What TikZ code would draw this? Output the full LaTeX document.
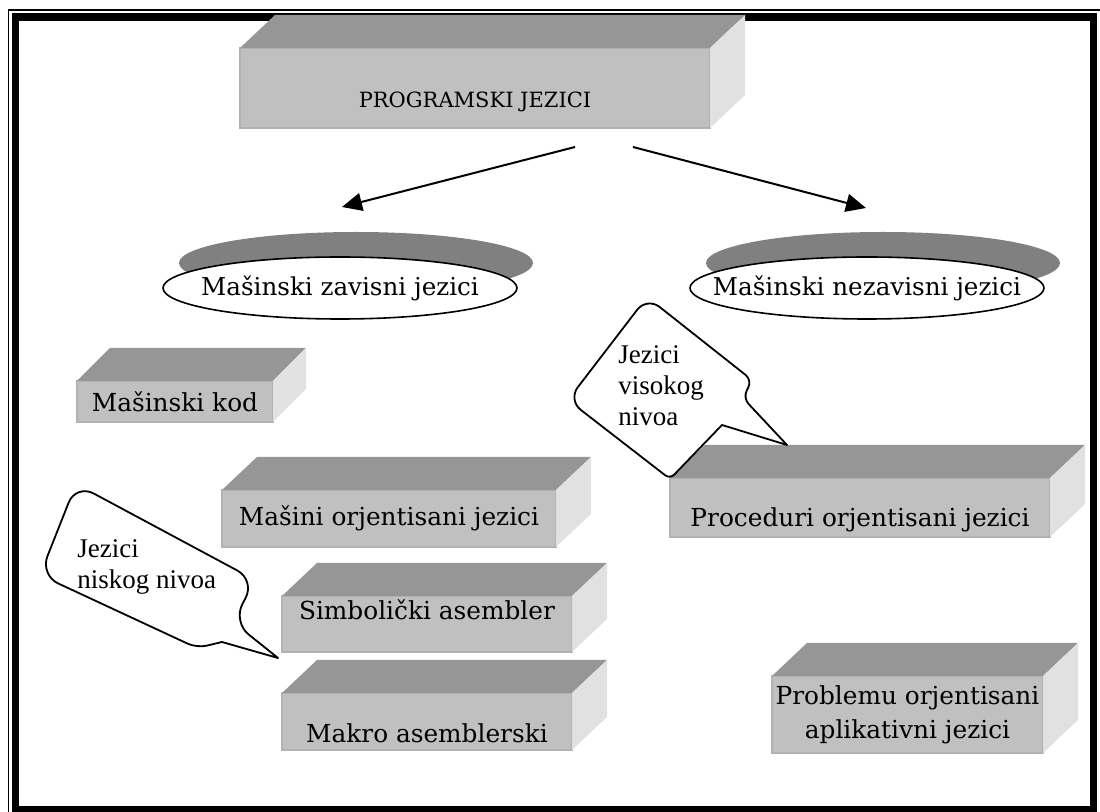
\documentclass[tikz,border=0pt]{standalone}
\usepackage{fontspec}
\setmainfont{DejaVu Serif}
\newfontfamily\calloutfont{Liberation Serif}
\usetikzlibrary{arrows.meta,shapes.geometric,shadows}

\definecolor{slabtopgray}{HTML}{969696}
\definecolor{slabfrontgray}{HTML}{C0C0C0}
\definecolor{slabsidegray}{HTML}{E1E1E1}
\definecolor{slabedgegray}{HTML}{B2B2B2}
\definecolor{ovalshade}{HTML}{808080}

\tikzset{
  slabface/.style={fill=slabfrontgray, draw=slabedgegray, line width=0.8pt,
    outer sep=0pt, inner sep=0pt, align=center,
    font=\fontsize{12.4}{17}\selectfont},
  slabtop/.style={fill=slabtopgray},
  slabside/.style={fill=slabsidegray},
  oval/.style={ellipse, draw=black, fill=white, line width=0.8pt, inner sep=0pt,
    minimum width=177pt, minimum height=31pt,
    font=\fontsize{12.3}{14}\selectfont,
    drop shadow={shadow xshift=8pt, shadow yshift=12.5pt, fill=ovalshade, opacity=1}},
  branch/.style={line width=1pt, -{Triangle[length=10pt,width=9pt]}},
  callout/.style={draw=black, fill=white, line width=0.9pt, line join=round},
  callouttext/.style={align=left, inner sep=0pt, anchor=west,
    font={\fontspec{Liberation Serif}\fontsize{13.5}{15.5}\selectfont}},
  frameline/.style={draw=black},
}

% a raised slab: name, centre x, centre y, width, height, depth x, depth y, text
\newcommand\slab[8]{%
  \node[slabface, minimum width=#4, minimum height=#5] (#1) at (#2,#3) {#8};
  \fill[slabtop] (#1.north west) -- ++(#6,#7) -- ([shift={(#6,#7)}]#1.north east)
    -- (#1.north east) -- cycle;
  \fill[slabside] (#1.north east) -- ++(#6,#7) -- ([shift={(#6,#7)}]#1.south east)
    -- (#1.south east) -- cycle;
}

\begin{document}
\begin{tikzpicture}[x=0.5pt, y=-0.5pt]
\useasboundingbox (0,0) rectangle (1100,812);

% page frame: thin outer rule and heavy inner rule
\draw[frameline, line width=0.8pt] (1100,10) -- (8.5,10) -- (8.5,812);
\draw[frameline, line width=3.75pt] (15.5,17) rectangle (1093.5,810);

% root
\slab{root}{475}{88}{235pt}{40pt}{35}{-33}{{\fontsize{10.5}{12}\selectfont\raisebox{-7pt}[\height][\depth]{PROGRAMSKI JEZICI}}}

% two branches
\coordinate (rootL) at (575,147);
\coordinate (rootR) at (633,147);
\coordinate (depTip) at (342,207);
\coordinate (indTip) at (866,208);
\draw[branch] (rootL) -- (depTip);
\draw[branch] (rootR) -- (indTip);

\node[oval] (dep) at (340,288) {\makebox[0pt]{Mašinski zavisni jezici}};
\node[oval] (ind) at (867,288) {\makebox[0pt]{Mašinski nezavisni jezici}};

% machine dependent languages
\slab{mkod}{175}{401.5}{98pt}{20.5pt}{33}{-33}{Mašinski kod}
\slab{morj}{389}{518.5}{167pt}{28.5pt}{35}{-33}{Mašini orjentisani jezici}
\slab{simb}{427}{624}{145pt}{28pt}{35}{-33}{\raisebox{7pt}[\height][\depth]{Simbolički asembler}}
\slab{makro}{427}{721.5}{145pt}{28.5pt}{35}{-33}{\raisebox{-6pt}[\height][\depth]{Makro asemblerski}}

% machine independent languages
\slab{proc}{860}{507.5}{190pt}{29.5pt}{35}{-33}{\raisebox{-6pt}[\height][\depth]{Proceduri orjentisani jezici}}
\slab{prob}{907.5}{714.5}{135.5pt}{38.5pt}{35}{-33}{Problemu orjentisani\\aplikativni jezici}

% callout: high level languages
\draw[callout] (722,425) [rounded corners=3pt] -- (670,479) [rounded corners=8pt]
  -- (568,400) -- (647,297) [rounded corners=4pt] -- (752,380) -- (743,398)
  [sharp corners] -- (787,445) -- cycle;
\node[callouttext] (hiNote) at (618,386) {Jezici\\visokog\\nivoa};

% callout: low level languages
\draw[callout] (222,642) [rounded corners=5pt] -- (197,648) [rounded corners=10pt]
  -- (40,575) -- (76,484) -- (255,580) -- (233,622) [sharp corners] -- (278,658) -- cycle;
\node[callouttext] (loNote) at (77,567) {Jezici\\niskog nivoa};
\end{tikzpicture}
\end{document}
